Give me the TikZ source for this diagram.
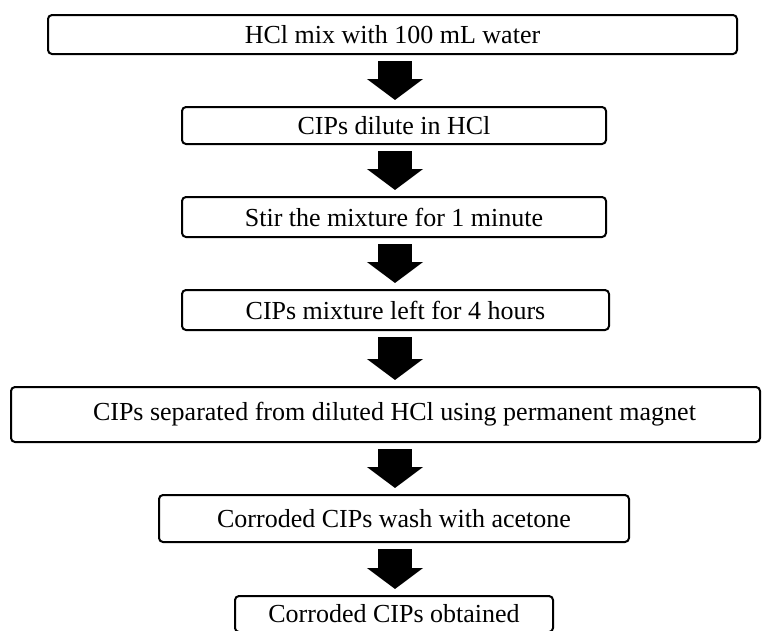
\documentclass[tikz,border=0pt]{standalone}
\usepackage{fontspec}
\setmainfont{Liberation Serif}
\usetikzlibrary{arrows.meta}

\tikzset{
  stepbox/.style={draw, line width=2pt, rounded corners=4pt, fill=white,
    inner sep=0pt, font=\fontsize{26}{30}\selectfont},
  blockarrow/.style={line width=34pt, -{Triangle[length=21pt,width=55pt]},
    shorten <=6pt, shorten >=6pt}
}

\begin{document}
\begin{tikzpicture}[x=1pt,y=-1pt]
\useasboundingbox (0,0) rectangle (763,630);
\clip (0,0) rectangle (763,630);
\coordinate (axis) at (395,0);
\node[stepbox, minimum width=689pt, minimum height=39pt] (mix) at (392.5,34.5) {HCl mix with 100 mL water};
\node[stepbox, minimum width=424pt, minimum height=37pt] (dilute) at (394,125.5) {CIPs dilute in HCl};
\node[stepbox, minimum width=424pt, minimum height=40pt] (stir) at (394,217) {Stir the mixture for 1 minute};
\node[stepbox, minimum width=427pt, minimum height=40pt] (left) at (395.5,310) {CIPs mixture left for 4 hours};
\node[stepbox, minimum width=749pt, minimum height=55pt] (separate) at (385.5,414.5) {\hspace*{18pt}CIPs separated from diluted HCl using permanent magnet};
\node[stepbox, minimum width=470pt, minimum height=47pt] (wash) at (394,518.5) {Corroded CIPs wash with acetone};
\node[stepbox, minimum width=318pt, minimum height=36pt] (obtained) at (394,614) {Corroded CIPs obtained};
\draw[blockarrow] (mix.south -| axis) -- (dilute.north -| axis);
\draw[blockarrow] (dilute.south -| axis) -- (stir.north -| axis);
\draw[blockarrow] (stir.south -| axis) -- (left.north -| axis);
\draw[blockarrow] (left.south -| axis) -- (separate.north -| axis);
\draw[blockarrow] (separate.south -| axis) -- (wash.north -| axis);
\draw[blockarrow] (wash.south -| axis) -- (obtained.north -| axis);
\end{tikzpicture}
\end{document}
